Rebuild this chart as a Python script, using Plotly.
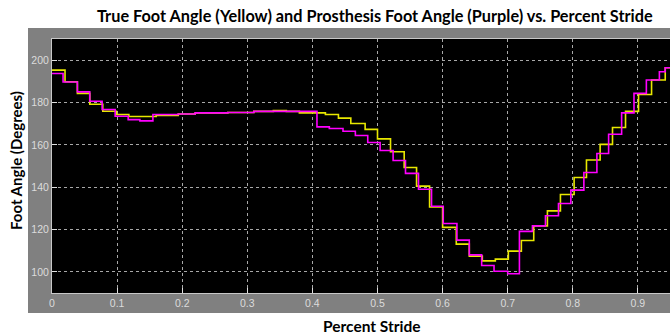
import plotly.graph_objects as go

# Step data (x = start of each step)
true_x = [0.0, 0.02, 0.039, 0.058, 0.078, 0.099, 0.118, 0.16, 0.194, 0.22, 0.27, 0.31, 0.34, 0.36,
          0.38, 0.42, 0.44, 0.459, 0.481, 0.50, 0.52, 0.541, 0.56, 0.58, 0.60, 0.621, 0.641,
          0.661, 0.681, 0.701, 0.721, 0.740, 0.761, 0.781, 0.802, 0.821, 0.842, 0.861, 0.881,
          0.901, 0.921, 0.942, 0.96]
true_y = [195.3, 189.8, 184.3, 179.2, 175.9, 174.3, 173.4, 173.9, 174.6, 175.1, 175.3, 175.8, 176.2, 175.8,
          175.1, 174.3, 172.6, 170.1, 167.3, 162.8, 156.7, 149.3, 140.5, 130.6, 121.0, 113.1, 107.4,
          105.2, 106.0, 109.8, 114.8, 121.7, 128.8, 136.5, 144.6, 152.8, 160.2, 168.2, 175.8,
          183.8, 190.6, 196.4, 198.0]

pros_x = [0.0, 0.017, 0.039, 0.058, 0.077, 0.097, 0.117, 0.135, 0.155, 0.194, 0.22, 0.27, 0.31,
          0.407, 0.426, 0.447, 0.466, 0.485, 0.504, 0.524, 0.543, 0.563, 0.583, 0.601, 0.622,
          0.641, 0.66, 0.679, 0.70, 0.718, 0.738, 0.758, 0.778, 0.797, 0.817, 0.837, 0.855,
          0.875, 0.894, 0.913, 0.933, 0.942, 0.96]
pros_y = [193.7, 189.7, 185.0, 180.6, 176.7, 173.5, 171.9, 171.3, 174.3, 174.6, 175.1, 175.3, 175.8,
          168.5, 167.7, 166.4, 164.4, 161.1, 157.3, 152.6, 146.5, 139.0, 131.0, 122.8, 115.0,
          108.0, 103.0, 100.3, 99.1, 119.1, 121.7, 126.5, 132.3, 138.6, 146.9, 155.9, 165.0,
          175.1, 184.3, 190.6, 194.5, 196.4, 198.0]

x_ticks = [0, 0.1, 0.2, 0.3, 0.4, 0.5, 0.6, 0.7, 0.8, 0.9]
x_tick_text = ["0", "0.1", "0.2", "0.3", "0.4", "0.5", "0.6", "0.7", "0.8", "0.9"]
y_ticks = [100, 120, 140, 160, 180, 200]

fig = go.Figure()
fig.add_trace(go.Scatter(x=true_x, y=true_y, mode="lines", line_shape="hv",
                         line=dict(color="#e8e800", width=1.6), name="True Foot Angle"))
fig.add_trace(go.Scatter(x=pros_x, y=pros_y, mode="lines", line_shape="hv",
                         line=dict(color="#ff00ff", width=1.6), name="Prosthesis Foot Angle"))

W, H = 670, 335
L, R, T, B = 52, 0, 39, 42
pw, ph = W - L - R, H - T - B

fig.update_layout(
    width=W, height=H,
    margin=dict(l=L, r=R, t=T, b=B),
    paper_bgcolor="white",
    plot_bgcolor="black",
    showlegend=False,
    shapes=[
        dict(type="rect", xref="paper", yref="paper", layer="below",
             x0=(28 - L) / pw, x1=1.0, y0=-(313 - 293) / ph, y1=(293 - 28) / ph,
             fillcolor="#808080", line=dict(width=0)),
        dict(type="rect", xref="paper", yref="paper", layer="below",
             x0=0, x1=1, y0=0, y1=1, fillcolor="black", line=dict(width=0)),
    ],
    annotations=[
        dict(text="<b>True Foot Angle (Yellow) and Prosthesis Foot Angle (Purple) vs. Percent Stride</b>",
             xref="paper", yref="paper", x=(375 - L) / pw, y=(293 - 16) / ph,
             xanchor="center", yanchor="middle", showarrow=False,
             font=dict(family="Lato", size=16.3, color="black")),
        dict(text="<b>Percent Stride</b>",
             xref="paper", yref="paper", x=(372 - L) / pw, y=(293 - 326) / ph,
             xanchor="center", yanchor="middle", showarrow=False,
             font=dict(family="Lato", size=15.5, color="black")),
        dict(text="<b>Foot Angle (Degrees)</b>", textangle=-90,
             xref="paper", yref="paper", x=(16 - L) / pw, y=(293 - 161) / ph,
             xanchor="center", yanchor="middle", showarrow=False,
             font=dict(family="Lato", size=15, color="black")),
    ],
)

fig.update_xaxes(range=[0, pw / 651.0], tickvals=x_ticks, ticktext=x_tick_text,
                 showgrid=True, gridcolor="#a8a8a8", griddash="dot", gridwidth=1,
                 zeroline=False, showline=True, linecolor="#c8c8c8", linewidth=1, mirror=True,
                 ticks="inside", ticklen=5, tickcolor="#e0e0e0",
                 tickfont=dict(family="Liberation Sans", size=10.5, color="#dcdcdc"))
fig.update_yaxes(range=[90, 210], tickvals=y_ticks,
                 showgrid=True, gridcolor="#a8a8a8", griddash="dot", gridwidth=1,
                 zeroline=False, showline=True, linecolor="#c8c8c8", linewidth=1, mirror=True,
                 ticks="inside", ticklen=5, tickcolor="#e0e0e0",
                 tickfont=dict(family="Liberation Sans", size=10.5, color="#dcdcdc"))

fig.write_html("out.html", config={"displayModeBar": False},
               post_script="document.body.style.margin='0px';document.body.style.overflow='hidden';")
